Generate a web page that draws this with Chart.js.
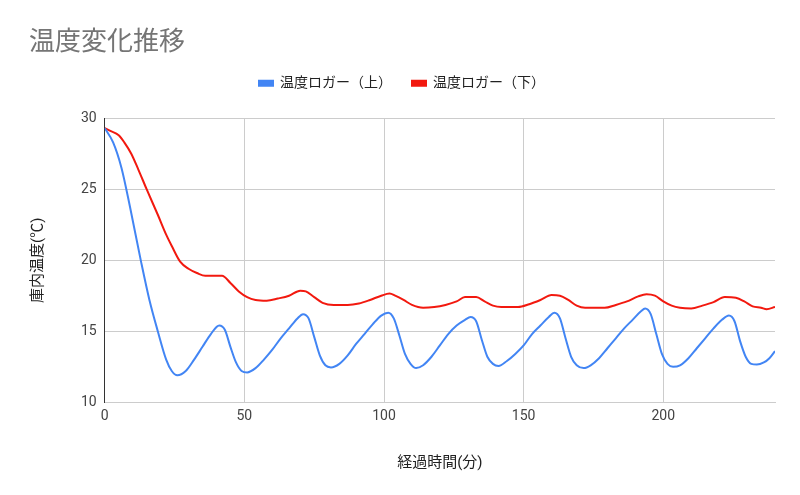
<!DOCTYPE html>
<html lang="ja">
<head>
<meta charset="utf-8">
<title>温度変化推移</title>
<script src="https://cdn.jsdelivr.net/npm/chart.js@4.4.1/dist/chart.umd.min.js"></script>
<style>
  html, body { margin: 0; padding: 0; background: #fff; }
  #wrap { width: 800px; height: 495px; position: relative; }
</style>
</head>
<body>
<div id="wrap"><canvas id="chart"></canvas></div>
<script>
// 温度ロガー（上） - minutes / temperature
const upperMinutes = [0, 3, 6, 9, 13, 16, 19, 22, 24, 26, 29, 32, 35, 38, 41, 43, 45, 47, 49, 51,
  54, 57, 60, 63, 66, 69, 71, 73, 75, 77, 79, 81, 84, 87, 90, 93, 96, 99, 101.5, 103.5,
  105.5, 107.5, 109.5, 111.5, 114, 117, 120, 123, 126, 129, 131, 133, 135, 137, 139, 141,
  144, 147, 150, 153, 156, 159, 161, 163, 165, 167, 169, 171.5, 174, 177, 180, 183, 186,
  189, 192, 193.5, 195.5, 197.5, 199.5, 201.5, 203.5, 206, 209, 212, 215, 218, 221, 223.5,
  225.5, 227.5, 229.5, 231.5, 233.5, 236, 238, 240];
const upperTemps = [29.3, 28.3, 26.5, 23.8, 19.9, 17.2, 15.0, 13.0, 12.2, 11.9, 12.2, 13.0, 13.9, 14.8, 15.4, 15.1, 13.9, 12.8, 12.2, 12.1,
  12.4, 13.0, 13.7, 14.5, 15.2, 15.9, 16.2, 15.9, 14.6, 13.3, 12.6, 12.45, 12.7, 13.3, 14.1, 14.8, 15.5, 16.1, 16.3, 15.9,
  14.7, 13.4, 12.7, 12.4, 12.6, 13.2, 14.0, 14.8, 15.4, 15.8, 16.0, 15.7, 14.4, 13.2, 12.7, 12.55,
  12.9, 13.4, 14.0, 14.8, 15.4, 16.0, 16.3, 15.9, 14.5, 13.2, 12.6, 12.4, 12.6, 13.1, 13.8, 14.5, 15.2,
  15.8, 16.4, 16.6, 16.2, 14.8, 13.4, 12.7, 12.5, 12.6, 13.1, 13.8, 14.5, 15.2, 15.8, 16.1,
  15.7, 14.3, 13.2, 12.7, 12.65, 12.8, 13.1, 13.6];

// 温度ロガー（下）
const lowerMinutes = [0, 2, 5, 7, 9.5, 12, 15, 19, 22, 24, 27, 30, 33, 36, 42, 45, 48, 51, 54, 58,
  62, 66, 70, 72, 75, 78, 82, 87, 91, 95, 99, 102, 104, 107, 110, 114, 118, 122, 126, 129,
  133, 136, 139, 142, 148, 152, 156, 160, 163, 166, 169, 172, 179, 183, 187, 191, 194, 197,
  200, 203, 206, 210, 214, 218, 222, 226, 229, 232, 235, 237, 240];
const lowerTemps = [29.3, 29.1, 28.8, 28.3, 27.5, 26.4, 25.0, 23.2, 21.8, 21.0, 19.9, 19.4, 19.1, 18.9, 18.9, 18.4, 17.8, 17.4, 17.2, 17.15,
  17.3, 17.5, 17.85, 17.8, 17.4, 17.0, 16.85, 16.85, 16.95, 17.2, 17.5, 17.65, 17.5, 17.2, 16.85, 16.65, 16.7, 16.85, 17.1, 17.4,
  17.4, 17.1, 16.8, 16.7, 16.7, 16.9, 17.2, 17.55, 17.5, 17.2, 16.8, 16.65, 16.65, 16.85, 17.1, 17.45, 17.6, 17.5,
  17.1, 16.8, 16.65, 16.6, 16.8, 17.05, 17.4, 17.35, 17.1, 16.75, 16.65, 16.55, 16.7];

const xTicks = [0, 50, 100, 150, 200];
const yTicks = [10, 15, 20, 25, 30];

function toPoints(xs, ys) {
    return xs.map((x, i) => ({ x: x, y: ys[i] }));
}

const baseFont = "Roboto, 'Noto Sans CJK JP', sans-serif";

// extra room between the legend and the plot
const legendGap = {
    id: 'legendGap',
    beforeInit(chart) {
        const fit = chart.legend.fit;
        chart.legend.fit = function() {
            fit.bind(chart.legend)();
            this.height += 18;
        };
    }
};

const ctx = document.getElementById('chart').getContext('2d');
new Chart(ctx, {
    type: 'line',
    data: {
        datasets: [
            {
                label: '温度ロガー（上）',
                data: toPoints(upperMinutes, upperTemps),
                borderColor: '#4285f4',
                backgroundColor: '#4285f4',
                borderWidth: 2,
                pointRadius: 0,
                cubicInterpolationMode: 'monotone'
            },
            {
                label: '温度ロガー（下）',
                data: toPoints(lowerMinutes, lowerTemps),
                borderColor: '#f2190f',
                backgroundColor: '#f2190f',
                borderWidth: 2,
                pointRadius: 0,
                cubicInterpolationMode: 'monotone'
            }
        ]
    },
    options: {
        responsive: true,
        maintainAspectRatio: false,
        animation: false,
        layout: {
            padding: { left: 29, right: 25, top: 28, bottom: 23 }
        },
        plugins: {
            title: {
                display: true,
                text: '温度変化推移',
                align: 'start',
                color: '#757575',
                font: { family: baseFont, size: 26, weight: 'normal' },
                padding: { top: 0, bottom: -3 }
            },
            legend: {
                position: 'top',
                labels: {
                    boxWidth: 14,
                    boxHeight: 5,
                    color: '#222',
                    padding: 20,
                    font: { family: baseFont, size: 14 }
                }
            },
            tooltip: { enabled: false }
        },
        scales: {
            x: {
                type: 'linear',
                min: 0,
                max: 240,
                afterBuildTicks: scale => {
                    scale.ticks = xTicks.map(v => ({ value: v }));
                },
                grid: { color: '#cccccc', drawTicks: false },
                border: { color: '#cccccc' },
                ticks: {
                    color: '#444',
                    padding: 6,
                    maxRotation: 0,
                    font: { family: baseFont, size: 14 }
                },
                title: {
                    display: true,
                    text: '経過時間(分)',
                    color: '#222',
                    font: { family: baseFont, size: 15 },
                    padding: { top: 23, bottom: 0 }
                }
            },
            y: {
                min: 10,
                max: 30,
                afterBuildTicks: scale => {
                    scale.ticks = yTicks.map(v => ({ value: v }));
                },
                grid: { color: '#cccccc', drawTicks: false },
                border: { color: '#333333' },
                ticks: {
                    color: '#444',
                    padding: 8,
                    font: { family: baseFont, size: 14 }
                },
                title: {
                    display: true,
                    text: '庫内温度(℃)',
                    color: '#222',
                    font: { family: baseFont, size: 15 },
                    padding: { top: 0, bottom: 26 }
                }
            }
        }
    },
    plugins: [legendGap]
});
</script>
</body>
</html>
